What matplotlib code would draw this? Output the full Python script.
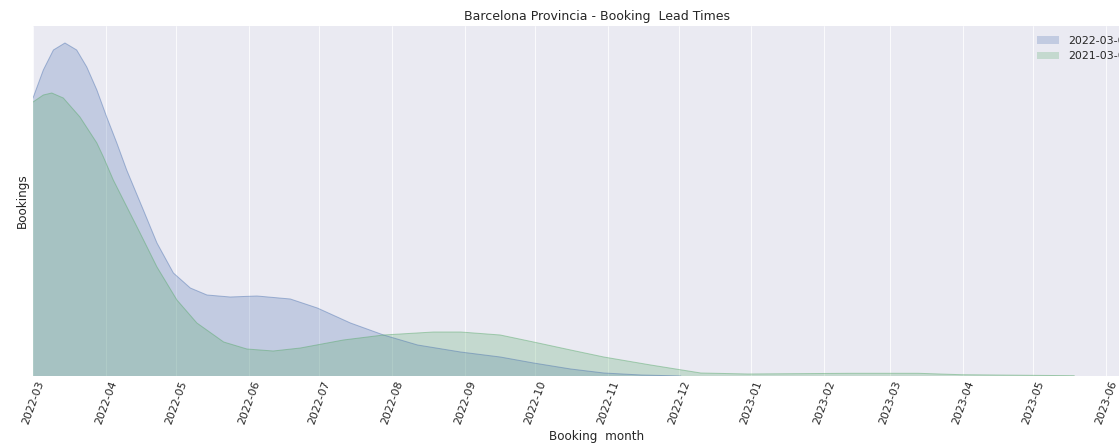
import pandas as pd
import matplotlib
matplotlib.use("Agg")
import matplotlib.pyplot as plt
import matplotlib.dates as mdates

plt.style.use("seaborn-v0_8-darkgrid")
plt.rcParams["font.family"] = "DejaVu Sans"

start = pd.Timestamp("2022-03-01")

# lead-time curves: days after start -> bookings (arbitrary units)
days_2022 = [0, 4.4, 8.7, 13.6, 18.6, 22.9, 27.2, 31.4, 35.7, 39.9,
             47, 52.8, 59.8, 67, 74.1, 84, 95.4, 109.6, 121.1,
             135.2, 149.3, 163.8, 182.1, 199, 213.2, 229, 243.1, 259, 275.9]
vals_2022 = [278, 306, 326, 333, 326, 309, 286, 259, 233, 206,
             166, 133, 103, 88, 81, 79, 80, 77, 68,
             53, 41, 31, 24, 19, 13, 7, 3, 1, 0]

days_2021 = [0, 4.4, 8, 12.9, 20, 27.2, 30, 34.2, 38.5, 45.6,
             52.8, 61.3, 69.8, 81.2, 91.1, 102.3, 113.9, 132.2, 149.3, 170.6,
             182.1, 199, 213.2, 229, 243.1, 263.1, 284.4, 304.5, 348.4, 377,
             395.3, 443.5]
vals_2021 = [274, 281, 283, 278, 259, 233, 219, 196, 176, 143,
             109, 76, 53, 34, 27, 25, 28, 36, 41, 44,
             44, 41, 34, 26, 19, 11, 3, 2, 2.7, 2.7,
             1.3, 0.3]

labels = ["2022-03-01", "2021-03-01"]
colors = ["#4c72b0", "#55a868"]

fig = plt.figure(figsize=(1119 / 72, 443 / 72), dpi=72)
ax = fig.add_axes([33 / 1119, 67 / 443, 1127 / 1119, 350 / 443])

for d, v, lab, c in [(days_2022, vals_2022, labels[0], colors[0]),
                     (days_2021, vals_2021, labels[1], colors[1])]:
    x = start + pd.to_timedelta(d, unit="D")
    ax.fill_between(x, v, 0, facecolor=c, alpha=0.25, label=lab)
    ax.plot(x, v, color=c, alpha=0.45, lw=1)

ax.set_xlim(start, pd.Timestamp("2023-06-24"))
ax.set_ylim(0, 350)
ax.set_yticks([])
ax.xaxis.set_major_locator(mdates.MonthLocator())
ax.xaxis.set_major_formatter(mdates.DateFormatter("%Y-%m"))
plt.setp(ax.get_xticklabels(), rotation=70, fontsize=11)

ax.set_title("Barcelona Provincia - Booking  Lead Times", fontsize=12.5)
ax.set_xlabel("Booking  month", fontsize=12)
ax.set_ylabel("Bookings", fontsize=12)
ax.legend(loc="upper left", bbox_to_anchor=(1027 / 1119, 1 - 26 / 443),
          bbox_transform=fig.transFigure, fontsize=11, frameon=False)

fig.savefig("out.png", dpi=72)
